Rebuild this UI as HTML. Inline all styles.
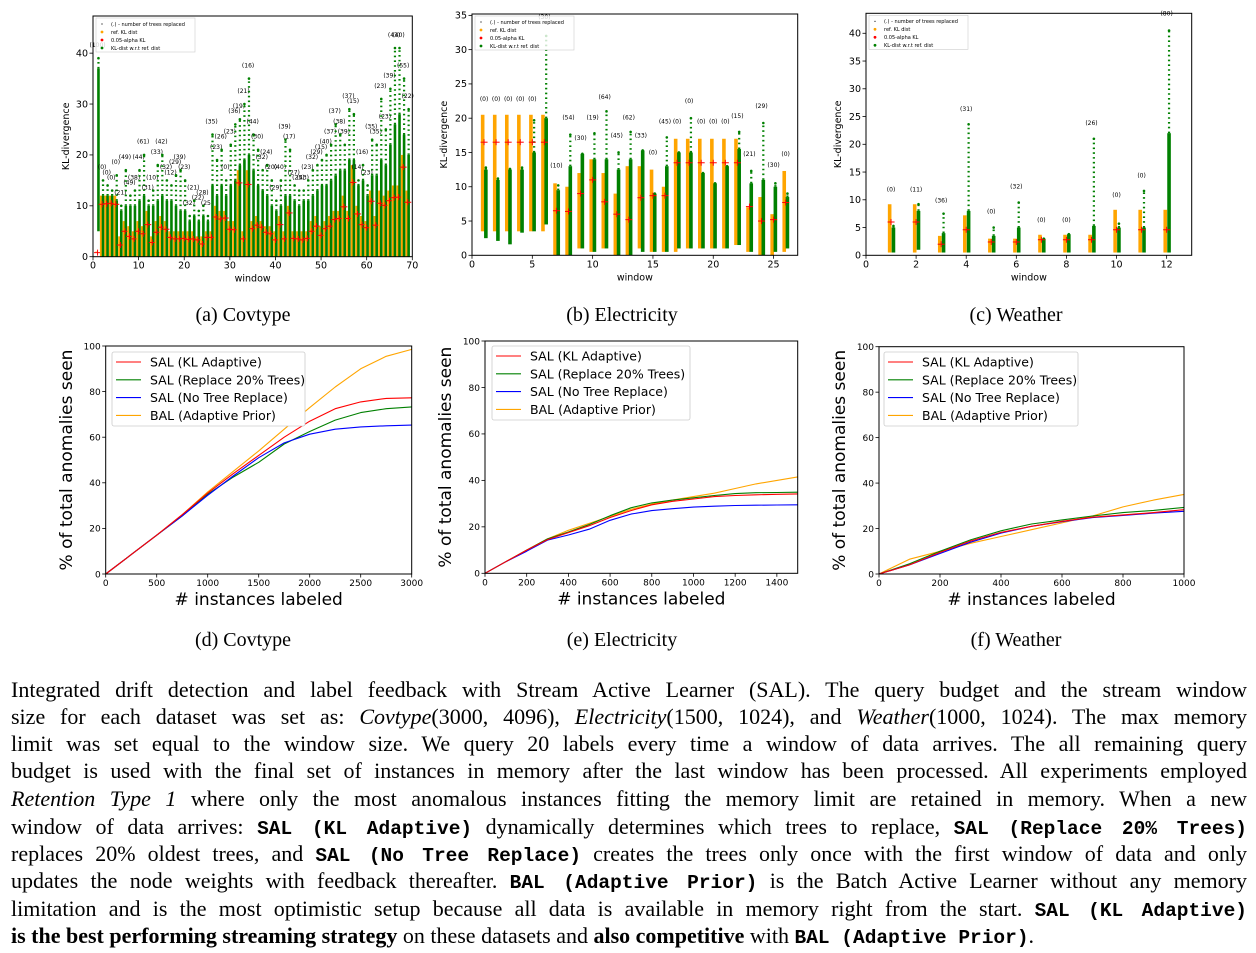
<!DOCTYPE html>
<html><head><meta charset="utf-8">
<style>
html,body{margin:0;padding:0;background:#fff;}
body{width:1256px;height:953px;position:relative;overflow:hidden;}
svg{position:absolute;left:0;top:0;}
.ln{position:absolute;left:11px;width:1236px;height:27px;font-family:"Liberation Serif",serif;font-size:22px;line-height:27px;text-align:justify;text-align-last:justify;white-space:nowrap;color:#000;}
.ln.last{text-align-last:left;}
.ln tt{font-family:"Liberation Mono",monospace;font-weight:bold;font-size:19.5px;}
.cap{font-family:"Liberation Serif",serif;font-size:20px;}
</style></head>
<body>
<svg id="fig" width="1256" height="660" viewBox="0 0 1256 660" xmlns="http://www.w3.org/2000/svg">
<text class="cap" x="243" y="321" text-anchor="middle" font-family="Liberation Serif" font-size="20">(a) Covtype</text>
<text class="cap" x="622" y="321" text-anchor="middle" font-family="Liberation Serif" font-size="20">(b) Electricity</text>
<text class="cap" x="1016" y="321" text-anchor="middle" font-family="Liberation Serif" font-size="20">(c) Weather</text>
<text class="cap" x="243" y="646" text-anchor="middle" font-family="Liberation Serif" font-size="20">(d) Covtype</text>
<text class="cap" x="622" y="646" text-anchor="middle" font-family="Liberation Serif" font-size="20">(e) Electricity</text>
<text class="cap" x="1016" y="646" text-anchor="middle" font-family="Liberation Serif" font-size="20">(f) Weather</text>
</svg>

<div>
<div class="ln" style="top:676px">Integrated drift detection and label feedback with Stream Active Learner (SAL). The query budget and the stream window</div>
<div class="ln" style="top:703px">size for each dataset was set as: <i>Covtype</i>(3000, 4096), <i>Electricity</i>(1500, 1024), and <i>Weather</i>(1000, 1024). The max memory</div>
<div class="ln" style="top:730px">limit was set equal to the window size. We query 20 labels every time a window of data arrives. The all remaining query</div>
<div class="ln" style="top:757px">budget is used with the final set of instances in memory after the last window has been processed. All experiments employed</div>
<div class="ln" style="top:785px"><i>Retention Type 1</i> where only the most anomalous instances fitting the memory limit are retained in memory. When a new</div>
<div class="ln" style="top:813px">window of data arrives: <tt>SAL (KL Adaptive)</tt> dynamically determines which trees to replace, <tt>SAL (Replace 20% Trees)</tt></div>
<div class="ln" style="top:840px">replaces 20% oldest trees, and <tt>SAL (No Tree Replace)</tt> creates the trees only once with the first window of data and only</div>
<div class="ln" style="top:867px">updates the node weights with feedback thereafter. <tt>BAL (Adaptive Prior)</tt> is the Batch Active Learner without any memory</div>
<div class="ln" style="top:895px">limitation and is the most optimistic setup because all data is available in memory right from the start. <tt>SAL (KL Adaptive)</tt></div>
<div class="ln last" style="top:922px"><b>is the best performing streaming strategy</b> on these datasets and <b>also competitive</b> with <tt>BAL (Adaptive Prior)</tt>.</div>
</div>

<script>
// ---------- (a) Covtype scatter data (windows 1..69) ----------
const aMax=[39,15,14,13,16,10,17,12,13,17,20,11,13,18,20,15,14,16,17,15,8,11,9,10,8,24,19,21,15,22,26,27,30,35,24,21,17,18,15,11,15,23,21,14,13,13,15,17,18,19,20,22,26,24,22,29,28,15,18,14,23,22,31,25,33,41,41,35,29];
const aTop=[37,12,12,12,11,9,10,10,10,11,12,10,10,11,12,11,11,10,9,9,7,8,7,8,7,14,12,14,12,14,15,18,19,20,17,14,13,12,10,9,10,12,12,11,10,11,11,12,13,14,14,15,16,17,17,19,19,14,15,12,16,16,19,18,22,26,28,24,20];
const aMin=[5,0,0,0,0,0,0,0,0,0,0,0,0,0,0,0,0,0,0,0,0,0,0,0,0,0,0,0,0,0,0,0,0,0,0,0,0,0,0,0,0,0,0,0,0,0,0,0,0,0,0,0,0,0,0,0,0,0,0,0,0,0,0,0,0,0,0,0,0];
const aRef=[1,12,12,12,12,4,7,6,5,7,6,9,4,7,8,7,5,5,5,5,5,5,4,4,5,5,10,9,9,7,7,17,5,17,7,8,7,6,6,5,8,5,10,5,5,5,5,7,8,6,7,8,9,9,12,9,18,10,8,7,13,8,13,12,13,14,14,20,13];
const aAlpha=[0.8,10.3,10.4,10.5,10.3,2.3,5,4,3.5,5,4.5,6.3,2.8,4.8,5.8,5.4,3.8,3.5,3.5,3.6,3.4,3.5,3.3,2.5,3.8,3.8,7.8,7.4,7.6,5.4,5.3,14.5,3.5,14.2,5.5,6.2,5.8,4.8,4.5,3.3,6.3,3.5,8.6,3.6,3.5,3.3,3.6,5,6,4.2,5.5,6,7.3,7.5,9.8,7.5,14.6,8.4,6.3,5.7,10.9,6.2,10.5,10.1,11,11.6,11.7,17.6,10.7];
const aLabels=["(100)","(0)","(0)","(0)","(0)","(21)","(49)","(49)","(38)","(44)","(61)","(31)","(10)","(33)","(42)","(32)","(12)","(29)","(39)","(23)","(32)","(21)","(22)","(28)","(25)","(35)","(23)","(26)","(0)","(23)","(36)","(19)","(21)","(16)","(44)","(30)","(32)","(24)","(20)","(29)","(40)","(39)","(17)","(27)","(25)","(43)","(23)","(32)","(29)","(15)","(40)","(37)","(37)","(38)","(39)","(37)","(15)","(14)","(16)","(23)","(35)","(35)","(23)","(23)","(39)","(43)","(40)","(55)","(22)"];
const aXTicks=[0,10,20,30,40,50,60,70];
const aYTicks=[0,10,20,30,40];

// ---------- (b) Electricity scatter data (windows 1..26) ----------
const bGMin=[2.5,2.1,1.6,3.3,3.5,4.5,0,0,1,0.5,1,0,0,0.5,0.5,0.5,1,1,1,1,1,1.5,0.5,0,0.5,1];
const bGTop=[12.5,11,12.5,12.5,15,20,9.5,13,14.8,14,14,12.5,14,15.3,9,13,15,15,12,10.5,13,15.5,10.5,11,10,8.5];
const bGMax=[12.8,11.2,12.6,12.8,19.7,32,10.2,17.6,14.8,17.8,21,15,18,15.3,9,17.2,15,20,12,10.5,13,18,12.3,19.3,10.5,9];
const bOMin=[3.5,3.5,3.5,3.5,3.5,3.5,0,0,1,0.5,1,0,0,1,0.5,0.5,0.5,1,1,1,1,1.5,0.5,0,0,0.5];
const bOMax=[20.5,20.5,20.5,20.5,20.5,20.5,10.5,10,12,14,12,9,13,13,12.5,10,17,17,17,17,17,17,7,8.5,6,12.3];
const bAlpha=[16.5,16.5,16.5,16.5,16.5,16.5,6.5,6.4,9,11,7.8,6,5.2,8.4,8.7,8.7,13.5,13.5,13.5,13.5,13.5,13.5,7.1,5,5.2,7.7];
const bLabels=["(0)","(0)","(0)","(0)","(0)","(30)","(10)","(54)","(30)","(19)","(64)","(45)","(62)","(33)","(0)","(45)","(0)","(0)","(0)","(0)","(0)","(15)","(21)","(29)","(30)","(0)"];
const bLabelY=[22.5,22.5,22.5,22.5,22.5,34.5,12.8,19.8,16.8,19.8,22.8,17.2,19.8,17.2,14.7,19.2,19.2,22.2,19.2,19.2,19.2,20,14.5,21.5,12.9,14.5];
const bXTicks=[0,5,10,15,20,25];
const bYTicks=[0,5,10,15,20,25,30,35];

// ---------- (c) Weather scatter data (windows 1..12) ----------
const cGMin=[0.5,1,0.5,0.5,0.5,0.5,0.5,0.5,0.5,0.5,0.5,0.5];
const cGTop=[5,8,4,8,3.5,5,3,3.8,5.3,5,5,22];
const cGMax=[5.3,9.2,7.5,23.6,5,9.5,3,3.8,21,5.7,11.6,40.5];
const cOMin=[0.5,0.5,0.5,0.5,0.5,0.5,0.5,0.5,0.5,0.5,0.5,0.5];
const cOMax=[9.2,9.2,3.5,7.2,3,3,3.7,3.7,3.7,8.2,8.2,8.2];
const cAlpha=[6,6,2,4.6,2.4,2.4,2.8,2.8,2.8,4.6,4.6,4.6];
const cLabels=["(0)","(11)","(36)","(31)","(0)","(32)","(0)","(0)","(26)","(0)","(0)","(80)"];
const cLabelY=[11.5,11.5,9.5,26,7.5,12,6,6,23.5,10.5,14,43.2];
const cXTicks=[0,2,4,6,8,10,12];
const cYTicks=[0,5,10,15,20,25,30,35,40];

// ---------- (d) Covtype curves ----------
const dX=[0,250,500,750,1000,1250,1500,1750,2000,2250,2500,2750,3000];
const dKL=[0,8.5,17,26,35.5,44,52,60,67,72.5,75.5,77,77.3];
const dR20=[0,8.5,17,25.5,35,42.5,49,57,62.5,67.5,70.8,72.5,73.3];
const dNT=[0,8.5,17,25.5,34.5,43,51,57.5,61.3,63.5,64.5,65,65.3];
const dBAL=[0,8.5,17,26,36,45,54,63.5,73,82,90,95.5,98.5];
const dXTicks=[0,500,1000,1500,2000,2500,3000];
// ---------- (e) Electricity curves ----------
const eX=[0,100,200,300,400,500,600,700,800,900,1000,1100,1200,1300,1400,1500];
const eKL=[0,5,10,14.5,17.5,20.5,24,27,29.5,31,32,33,33.5,33.8,34,34.2];
const eR20=[0,5,10,14.8,17.8,21,24.8,28.2,30.3,31.5,32.5,33.5,34.3,34.7,34.8,34.9];
const eNT=[0,5,9.5,14.3,16.5,19,22.8,25.5,27,27.8,28.5,28.9,29.2,29.3,29.4,29.5];
const eBAL=[0,5,10,14.8,18.5,21.5,24.5,27.5,29.8,31.5,33,34.5,36.5,38.5,40,41.5];
const eXTicks=[0,200,400,600,800,1000,1200,1400];
// ---------- (f) Weather curves ----------
const fX=[0,100,200,300,400,500,600,700,800,900,1000];
const fKL=[0,4,9.5,14.5,18.3,21,23.2,25,26,27,28.3];
const fR20=[0,4.5,10,15,19,22,23.8,25.5,27,28,29.3];
const fNT=[0,4,9,14,18,21,23,24.8,25.8,26.8,27.6];
const fBAL=[0,6.5,10,13.5,16.5,19.5,22.5,25.5,29.5,32.5,35];
const fXTicks=[0,200,400,600,800,1000];
const pctTicks=[0,20,40,60,80,100];

const NS='http://www.w3.org/2000/svg';
const svg=document.getElementById('fig');
function mk(tag,attrs,parent){const e=document.createElementNS(NS,tag);for(const k in attrs)e.setAttribute(k,attrs[k]);(parent||svg).appendChild(e);return e;}
function txt(parent,x,y,s,size,anchor,extra){const t=mk('text',Object.assign({x:x,y:y,'font-size':size,'text-anchor':anchor||'middle','font-family':'DejaVu Sans, Liberation Sans, sans-serif',fill:'#000'},extra||{}),parent);t.textContent=s;return t;}

function axes(g,L,R,T,B,xs,ys,xt,yt,fs){
  const box=mk('rect',{x:L,y:T,width:R-L,height:B-T,fill:'none',stroke:'#000','stroke-width':1},g);
  
  
  xt.forEach(v=>{const x=xs(v);
    const tk=mk('line',{x1:x,x2:x,y1:B,y2:B+3.5,stroke:'#000','stroke-width':0.8},g);
    
    
    const lb=txt(g,x,B+12,String(v),fs);
    
    });
  yt.forEach(v=>{const y=ys(v);
    const tk=mk('line',{x1:L-3.5,x2:L,y1:y,y2:y,stroke:'#000','stroke-width':0.8},g);
    
    
    const lb=txt(g,L-5,y+3.3,String(v),fs,'end');
    
    });
}

function scatterLegend(g,x,y){
  const bx=mk('rect',{x:x,y:y,width:99,height:34,fill:'#fff','fill-opacity':0.8,stroke:'#ccc','stroke-width':0.6},g);
  
  
  const items=[['(.) - number of trees replaced','#000'],['ref. KL dist','orange'],['0.05-alpha KL','red'],['KL-dist w.r.t ref. dist','green']];
  items.forEach((it,i)=>{const yy=y+6+i*8;
    const m=mk('circle',{cx:x+6,cy:yy,r:i===0?0.6:1.4,fill:it[1]},g);
    
    
    const t=txt(g,x+15,yy+1.8,it[0],5,'start');
    
    });
}

function scatter(name,L,R,T,B,xmax,ymax,gMin,gTop,gMax,oMin,oMax,alpha,labels,labelY,xt,yt,colW,gOff,oOff,ylx){
  const g=mk('g',{});
  
  
  const xs=v=>L+v/xmax*(R-L), ys=v=>B-v/ymax*(B-T);
  for(let i=0;i<gMax.length;i++){
    const w=i+1, cx=xs(w);
    const o=mk('rect',{x:cx+oOff-colW/2,y:ys(oMax[i]),width:colW,height:Math.max(0.5,ys(oMin[i])-ys(oMax[i])),fill:'orange'},g);
    
    
    const gc=mk('rect',{x:cx+gOff-colW/2,y:ys(gTop[i]),width:colW,height:Math.max(0.5,ys(gMin[i])-ys(gTop[i])),fill:'green'},g);
    
    
    if(gMax[i]>gTop[i]){
      const dl=mk('line',{x1:cx+gOff,x2:cx+gOff,y1:ys(gTop[i]),y2:ys(gMax[i]),stroke:'green','stroke-width':2.2,'stroke-dasharray':'1.6 3.2'},g);
      
      
    }
    const tp=mk('circle',{cx:cx+gOff,cy:ys(gMax[i]),r:1.3,fill:'green'},g);
    
    
    const rh=mk('line',{x1:cx-3.5,x2:cx+3.5,y1:ys(alpha[i]),y2:ys(alpha[i]),stroke:'red','stroke-width':1},g);
    
    
    const rv=mk('line',{x1:cx,x2:cx,y1:ys(alpha[i])-3,y2:ys(alpha[i])+3,stroke:'red','stroke-width':1},g);
    
    
    const ly=labelY?labelY[i]:gMax[i]+2.2;
    const lt=txt(g,cx,ys(ly),labels[i],6);
    
    
  }
  axes(g,L,R,T,B,xs,ys,xt,yt,9.5);
  const xl=txt(g,(L+R)/2,B+25,'window',9.5);
  
  
  const yl=txt(g,0,0,'KL-divergence',9.5,'middle',{transform:`translate(${ylx},${(T+B)/2}) rotate(-90)`});
  
  
  scatterLegend(g,L+3,T+2);
}

scatter('chart-a-covtype-kl',93,412.3,16,256.7,70,47.3,aMin,aTop,aMax,aMin,aRef,aAlpha,aLabels,null,aXTicks,aYTicks,2.6,0.9,-0.9,69);
scatter('chart-b-electricity-kl',472,797.7,14,255.3,27,35.2,bGMin,bGTop,bGMax,bOMin,bOMax,bAlpha,bLabels,bLabelY,bXTicks,bYTicks,3.6,1.8,-1.4,447);
scatter('chart-c-weather-kl',866,1191.7,13.3,255.3,13,43.6,cGMin,cGTop,cGMax,cOMin,cOMax,cAlpha,cLabels,cLabelY,cXTicks,cYTicks,3.6,2.4,-1.4,841);

function curves(name,L,R,T,B,xmax,xs_,series,xt,lg,ylx){
  const g=mk('g',{});
  
  
  const xs=v=>L+v/xmax*(R-L), ys=v=>B-v/100*(B-T);
  const cols=['red','green','blue','orange'];
  const names=['SAL (KL Adaptive)','SAL (Replace 20% Trees)','SAL (No Tree Replace)','BAL (Adaptive Prior)'];
  [3,1,2,0].forEach(k=>{
    const pts=xs_.map((x,i)=>xs(x).toFixed(1)+','+ys(series[k][i]).toFixed(1)).join(' ');
    const p=mk('polyline',{points:pts,fill:'none',stroke:cols[k],'stroke-width':1.1,'stroke-linejoin':'round'},g);
    
    
  });
  axes(g,L,R,T,B,xs,ys,xt,pctTicks,9);
  const xl=txt(g,(L+R)/2,B+31,'# instances labeled',17);
  
  
  const yl=txt(g,0,0,'% of total anomalies seen',17,'middle',{transform:`translate(${ylx},${(T+B)/2}) rotate(-90)`});
  
  
  const bx=mk('rect',{x:lg[0],y:lg[1],width:lg[2],height:74,rx:2,fill:'#fff',stroke:'#ccc','stroke-width':0.8},g);
  
  
  names.forEach((n,i)=>{const yy=lg[1]+10+i*17.8;
    const l=mk('line',{x1:lg[0]+4,x2:lg[0]+29,y1:yy,y2:yy,stroke:cols[i],'stroke-width':1.1},g);
    
    
    const t=txt(g,lg[0]+38,yy+4.5,n,12.5,'start');
    
    });
}
curves('chart-d-covtype-curves',105.7,411.7,346,574,3000,dX,[dKL,dR20,dNT,dBAL],dXTicks,[112,352,193],72);
curves('chart-e-electricity-curves',485,797.7,341,573.3,1500,eX,[eKL,eR20,eNT,eBAL],eXTicks,[492,346,198],451);
curves('chart-f-weather-curves',879,1184,346.7,574,1000,fX,[fKL,fR20,fNT,fBAL],fXTicks,[884,352,194],845);
</script>
</body></html>
